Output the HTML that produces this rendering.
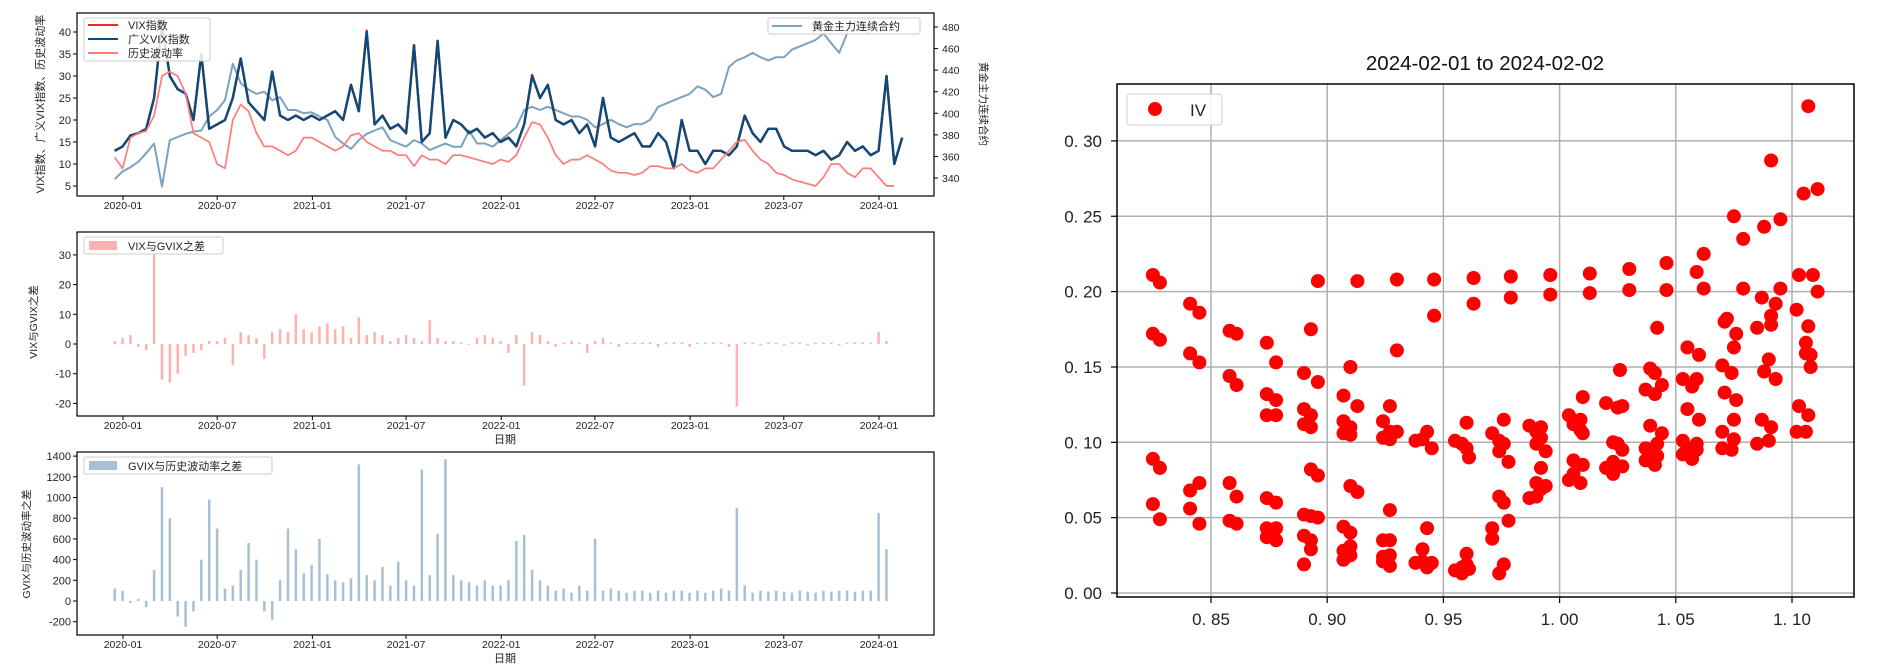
<!DOCTYPE html>
<html><head><meta charset="utf-8">
<style>
html,body{margin:0;padding:0;background:#fff;}
svg{display:block;}
text{font-family:"Liberation Sans","Noto Sans CJK SC",sans-serif;}
</style></head>
<body>
<svg id="svg" width="1893" height="666" viewBox="0 0 1893 666" xmlns="http://www.w3.org/2000/svg"></svg>
<script>
// ---------- time series data (half-month samples starting 2019-12-16) ----------
const gvixValues = [13,14,16.5,17,18,25,42,30,27,26,20,35,18,19,20,25,34,24,22,20,31,21,20,21,20,21,
20,21,22,20,28,22,40,19,21,18,19,17,37,15,17,38,16,20,19,17,18,16,17,15,
16,14,19,30,25,28,20,19,20,17,19,14,25,16,15,16,17,14,14,17,15,9,20,13,
13,10,13,13,12,14,21,17,15,18,18,14,13,13,13,12,13,11,12,15,13,14,12,13,30,10,16];
const vixValues = [13,14,16.5,17,18,25,42,30,27,26,20,35,18,19,20,25,34,24,22,20,31,21,20,21,20,21,
20,21,22,20,28,22,40.3,19,21,18,19,17,37,15,17,38,16,20,19,17,18,16,17,15,
16,14,19,30.2,25,28,20,19,20,17,19,14,25,16,15,16,17,14,14,17,15,9,20,13,
13,10,13,13,12,14,21,17,15,18,18,14,13,13,13,12,13,11,12,15,13,14,12,13,30,10,16];
const hvValues = [11.5,9,16,17,17.5,21,30,31,30,26,17,16,15,10,9,20,23.5,22,17,14,14,13,12,13,16,
16,15,14,13,14,16.5,17,15,14,13,13,12,12,9.5,12,11,11,10,12,12,11.5,11,10.5,10,
11,10.5,12,16,19.5,19,16,12,10,11,11,12,11,10,8.5,8,8,7.5,8,9.5,9.5,9,9,10,
8.5,8,9,9,11,13,15,15.5,13,11,10,8,7.5,6.5,6,5.5,5,7,10,10,8,7,9,9,7,5,5];
const goldValues = [339,346,350,355,363,372,332,375,378,381,383,384,397,403,412,446,428,422,418,420,412,415,403,403,400,
401,397,394,378,372,367,375,381,384,387,375,372,369,375,372,366,369,372,369,369,384,372,372,369,
375,381,387,403,406,403,406,403,400,397,397,394,387,390,394,390,387,390,390,394,406,409,412,415,
418,425,422,415,418,443,449,452,456,452,449,452,452,459,462,465,468,474,465,456,474,486,477,474];
const vixGvixDiff = [1,2,3,-1,-2,31,-12,-13,-10,-4,-3,-2,1,1,2,-7,4,3,2,-5,4,5,4,10,5,
4,6,7,5,6,2,9,3,4,3,1,2,3,2,1,8,2,1,1,0.5,0,2,3,2,
1,-3,3,-14,4,3,1,-1,0.5,1,0.5,-3,1,2,0.5,-1,0.5,0.5,0.5,0.5,-1,0.5,0.5,0.5,
-1,0.5,0.5,0.5,0.5,-1,-21,0.5,0.5,-0.5,0.5,0.5,-0.5,0.5,0.5,-0.5,0.5,0.5,0.5,-0.5,0.5,0.5,0.5,0.5,4,1];
const gvixHvDiff = [120,100,-20,20,-60,300,1100,800,-150,-250,-100,400,980,700,120,150,300,560,400,-100,-180,200,700,500,270,
350,600,260,200,180,220,1320,250,200,330,150,380,200,150,1270,250,650,1370,250,200,180,150,200,150,
150,200,580,640,300,200,150,100,120,80,150,100,600,100,120,100,80,100,100,80,100,80,100,100,
80,100,80,100,120,100,900,150,80,100,90,100,90,80,100,90,80,100,90,100,100,90,100,100,850,500];
const dateTicks = ['2020-01','2020-07','2021-01','2021-07','2022-01','2022-07','2023-01','2023-07','2024-01'];
const leftTicks = [5,10,15,20,25,30,35,40];
const rightTicks = [340,360,380,400,420,440,460,480];
const midTicks = [-20,-10,0,10,20,30];
const botTicks = [-200,0,200,400,600,800,1000,1200,1400];

// ---------- scatter data ----------
const ivMoneyness = [0.825,0.825,0.825,0.825,0.828,0.828,0.828,0.828,0.841,0.841,0.841,0.841,0.845,0.845,0.845,0.845,
0.858,0.858,0.858,0.858,0.861,0.861,0.861,0.861,0.874,0.874,0.874,0.874,0.874,0.874,0.878,0.878,0.878,0.878,0.878,0.878,
0.890,0.890,0.890,0.890,0.890,0.890,0.893,0.893,0.893,0.893,0.893,0.893,0.893,0.896,0.896,0.896,0.896,
0.907,0.907,0.907,0.907,0.907,0.907,0.910,0.910,0.910,0.910,0.910,0.910,0.910,0.913,0.913,0.913,
0.924,0.924,0.924,0.924,0.924,0.927,0.927,0.927,0.927,0.927,0.927,0.927,0.930,0.930,0.930,
0.938,0.938,0.941,0.941,0.941,0.943,0.943,0.943,0.945,0.945,0.946,0.946,
0.955,0.955,0.958,0.958,0.958,0.960,0.960,0.960,0.960,0.961,0.961,0.963,0.963,
0.971,0.971,0.971,0.974,0.974,0.974,0.974,0.976,0.976,0.976,0.976,0.978,0.978,0.979,0.979,
0.987,0.987,0.990,0.990,0.990,0.990,0.992,0.992,0.992,0.992,0.994,0.994,0.996,0.996,
1.004,1.004,1.006,1.006,1.006,1.009,1.009,1.009,1.010,1.010,1.010,1.013,1.013,
1.020,1.020,1.023,1.023,1.023,1.025,1.025,1.027,1.027,1.027,1.026,1.030,1.030,
1.037,1.037,1.037,1.039,1.039,1.039,1.041,1.041,1.041,1.042,1.042,1.042,1.044,1.044,1.046,1.046,
1.053,1.053,1.053,1.055,1.055,1.055,1.057,1.057,1.059,1.059,1.059,1.059,1.060,1.060,1.062,1.062,
1.070,1.070,1.070,1.071,1.071,1.072,1.074,1.074,1.075,1.075,1.075,1.075,1.076,1.076,1.079,1.079,
1.085,1.085,1.087,1.087,1.088,1.088,1.090,1.090,1.091,1.091,1.091,1.091,1.093,1.093,1.095,1.095,
1.102,1.102,1.103,1.103,1.105,1.106,1.106,1.106,1.107,1.107,1.107,1.108,1.108,1.109,1.111,1.111];
const ivValues = [0.211,0.089,0.059,0.172,0.206,0.168,0.083,0.049,0.192,0.159,0.068,0.056,0.186,0.153,0.073,0.046,
0.174,0.144,0.073,0.048,0.172,0.138,0.064,0.046,0.166,0.132,0.118,0.063,0.043,0.037,0.153,0.128,0.118,0.060,0.043,0.035,
0.146,0.122,0.112,0.052,0.038,0.019,0.175,0.118,0.110,0.082,0.051,0.035,0.029,0.207,0.140,0.078,0.050,
0.131,0.114,0.106,0.044,0.028,0.022,0.150,0.110,0.105,0.071,0.040,0.031,0.025,0.207,0.124,0.067,
0.114,0.103,0.035,0.024,0.021,0.124,0.107,0.102,0.055,0.035,0.025,0.018,0.208,0.161,0.107,
0.101,0.020,0.102,0.029,0.021,0.107,0.043,0.017,0.096,0.020,0.208,0.184,
0.101,0.015,0.099,0.017,0.013,0.113,0.096,0.026,0.019,0.090,0.016,0.209,0.192,
0.106,0.036,0.043,0.101,0.094,0.064,0.013,0.115,0.099,0.060,0.019,0.087,0.048,0.210,0.196,
0.111,0.063,0.107,0.099,0.073,0.064,0.110,0.103,0.083,0.069,0.094,0.071,0.211,0.198,
0.118,0.075,0.112,0.088,0.079,0.115,0.108,0.073,0.130,0.106,0.085,0.212,0.199,
0.126,0.083,0.100,0.087,0.079,0.123,0.099,0.124,0.095,0.084,0.148,0.215,0.201,
0.135,0.096,0.088,0.149,0.111,0.091,0.146,0.132,0.085,0.176,0.099,0.091,0.138,0.106,0.219,0.201,
0.142,0.101,0.092,0.163,0.122,0.096,0.137,0.089,0.213,0.142,0.099,0.095,0.158,0.115,0.225,0.202,
0.151,0.107,0.096,0.180,0.133,0.182,0.146,0.095,0.250,0.163,0.115,0.102,0.172,0.128,0.235,0.202,
0.176,0.099,0.196,0.115,0.243,0.147,0.155,0.101,0.287,0.184,0.178,0.110,0.192,0.142,0.248,0.202,
0.188,0.107,0.211,0.124,0.265,0.166,0.159,0.107,0.323,0.177,0.118,0.158,0.150,0.211,0.268,0.200];
const scatterXTicks = [0.85,0.90,0.95,1.00,1.05,1.10];
const scatterYTicks = [0.00,0.05,0.10,0.15,0.20,0.25,0.30];

const NS = 'http://www.w3.org/2000/svg';
const svg = document.getElementById('svg');
function mk(tag, attrs, parent) {
  const e = document.createElementNS(NS, tag);
  for (const k in attrs) e.setAttribute(k, attrs[k]);
  (parent || svg).appendChild(e);
  return e;
}
function txt(str, attrs, parent) { const t = mk('text', attrs, parent); t.textContent = str; return t; }

const D0 = Date.UTC(2020,0,1), D1 = Date.UTC(2024,0,1);
const startDate = Date.UTC(2019,11,16);
const halfMonth = 365.25/24*86400000;
function xDate(ms) { return 123 + (ms - D0) / (D1 - D0) * 756; }
function xIdx(i) { return xDate(startDate + i * halfMonth); }
function tickDate(s) { const [y,m] = s.split('-').map(Number); return Date.UTC(y, m-1, 1); }

const X0 = 77, X1 = 934;
function frame(y0, y1, name) {
  const r = mk('rect', {x:X0, y:y0, width:X1-X0, height:y1-y0, fill:'none', stroke:'#000', 'stroke-width':1.2});
  
  
}
function xAxis(yb, labelY, name) {
  const g = mk('g', {});
  
  
  dateTicks.forEach(s => {
    const x = xDate(tickDate(s));
    mk('line', {x1:x, x2:x, y1:yb, y2:yb+4, stroke:'#000', 'stroke-width':1}, g);
    const t = txt(s, {x:x, y:labelY, 'font-size':10.5, 'text-anchor':'middle', fill:'#222'}, g);
    
    
  });
}
function yAxisLeft(ticks, fy, name) {
  const g = mk('g', {});
  
  
  ticks.forEach(v => {
    const y = fy(v);
    mk('line', {x1:X0-4, x2:X0, y1:y, y2:y, stroke:'#000'}, g);
    txt(String(v), {x:X0-6, y:y+4, 'font-size':11, 'text-anchor':'end', fill:'#222'}, g);
  });
}

// ---------- top chart ----------
const T0 = 13, T1 = 196;
const yL = v => 186 - (v - 5) * 4.4;
const yR = v => 178 - (v - 340) * 1.0786;
const clip = mk('clipPath', {id:'topclip'});
mk('rect', {x:X0, y:T0, width:X1-X0, height:T1-T0}, clip);
const topG = mk('g', {'clip-path':'url(#topclip)'});


function pl(vals, fy, color, w, name) {
  const pts = vals.map((v,i) => xIdx(i).toFixed(1) + ',' + fy(v).toFixed(1)).join(' ');
  const p = mk('polyline', {points:pts, fill:'none', stroke:color, 'stroke-width':w, 'stroke-linejoin':'round'}, topG);
  
  
}
pl(goldValues, yR, '#7ca2c0', 2, 'gold-line');
pl(vixValues, yL, '#ff2020', 2.4, 'vix-line');
pl(gvixValues, yL, '#0b4a7a', 2.4, 'gvix-line');
pl(hvValues, yL, '#ff7b7b', 1.7, 'hv-line');
frame(T0, T1, 'top-chart-frame');
yAxisLeft(leftTicks, yL, 'top-left-y-axis');
const rg = mk('g', {});


rightTicks.forEach(v => {
  const y = yR(v);
  mk('line', {x1:X1, x2:X1+4, y1:y, y2:y, stroke:'#000'}, rg);
  txt(String(v), {x:X1+8, y:y+4, 'font-size':10.5, fill:'#222'}, rg);
});
xAxis(T1, 209, 'top-x-axis');
let t = txt('VIX指数、广义VIX指数、历史波动率', {x:0, y:0, 'font-size':11, 'text-anchor':'middle', transform:'translate(44,104) rotate(-90)', fill:'#222'});


t = txt('黄金主力连续合约', {x:0, y:0, 'font-size':10.5, 'text-anchor':'middle', transform:'translate(980,104) rotate(90)', fill:'#222'});


const lg1 = mk('g', {});


mk('rect', {x:84, y:18, width:126, height:43, rx:2, fill:'#fff', 'fill-opacity':0.85, stroke:'#ccc'}, lg1);
[['VIX指数','#ff2020',25],['广义VIX指数','#0b4a7a',39],['历史波动率','#ff7b7b',53]].forEach(([l,c,y]) => {
  mk('line', {x1:88, x2:118, y1:y, y2:y, stroke:c, 'stroke-width':2}, lg1);
  txt(l, {x:128, y:y+4, 'font-size':11, fill:'#222'}, lg1);
});
const lg2 = mk('g', {});


mk('rect', {x:768, y:18, width:152, height:16, rx:2, fill:'#fff', 'fill-opacity':0.85, stroke:'#ccc'}, lg2);
mk('line', {x1:772, x2:802, y1:26, y2:26, stroke:'#7ca2c0', 'stroke-width':2}, lg2);
txt('黄金主力连续合约', {x:812, y:30, 'font-size':11, fill:'#222'}, lg2);

// ---------- middle chart ----------
const M0 = 232, M1 = 416;
const yM = v => 344 - v * 2.97;
const midG = mk('g', {});


vixGvixDiff.forEach((v,i) => {
  const x = xIdx(i);
  const y0 = yM(0), y1 = yM(v);
  const b = mk('rect', {x:x-1.25, y:Math.min(y0,y1), width:2.5, height:Math.max(0.8,Math.abs(y1-y0)), fill:'#ffb0b0'}, midG);
  
  
});
frame(M0, M1, 'middle-chart-frame');
yAxisLeft(midTicks, yM, 'middle-y-axis');
xAxis(M1, 429, 'middle-x-axis');
t = txt('日期', {x:505, y:443, 'font-size':11, 'text-anchor':'middle', fill:'#222'});


t = txt('VIX与GVIX之差', {x:0, y:0, 'font-size':10.5, 'text-anchor':'middle', transform:'translate(37,322) rotate(-90)', fill:'#222'});


const lg3 = mk('g', {});


mk('rect', {x:84, y:237, width:139, height:17, rx:2, fill:'#fff', stroke:'#ccc'}, lg3);
mk('rect', {x:89, y:241, width:28, height:9, fill:'#ffb0b0'}, lg3);
txt('VIX与GVIX之差', {x:128, y:250, 'font-size':11, fill:'#222'}, lg3);

// ---------- bottom chart ----------
const B0 = 452, B1 = 635;
const yB = v => 601 - v * 0.1035;
const botG = mk('g', {});


gvixHvDiff.forEach((v,i) => {
  const x = xIdx(i);
  const y0 = yB(0), y1 = yB(v);
  const b = mk('rect', {x:x-1.25, y:Math.min(y0,y1), width:2.5, height:Math.max(0.8,Math.abs(y1-y0)), fill:'#a9c0d4'}, botG);
  
  
});
frame(B0, B1, 'bottom-chart-frame');
yAxisLeft(botTicks, yB, 'bottom-y-axis');
xAxis(B1, 648, 'bottom-x-axis');
t = txt('日期', {x:505, y:662, 'font-size':11, 'text-anchor':'middle', fill:'#222'});


t = txt('GVIX与历史波动率之差', {x:0, y:0, 'font-size':10.5, 'text-anchor':'middle', transform:'translate(30,544) rotate(-90)', fill:'#222'});


const lg4 = mk('g', {});


mk('rect', {x:84, y:457, width:188, height:17, rx:2, fill:'#fff', stroke:'#ccc'}, lg4);
mk('rect', {x:89, y:461, width:28, height:9, fill:'#a9c0d4'}, lg4);
txt('GVIX与历史波动率之差', {x:128, y:470, 'font-size':11, fill:'#222'}, lg4);

// ---------- scatter chart ----------
const SX0 = 1117, SX1 = 1854, SY0 = 84, SY1 = 597;
const sx = v => 1211 + (v - 0.85) * 2324;
const sy = v => 593 - v * 1507;
const sg = mk('g', {});


scatterXTicks.forEach(v => {
  mk('line', {x1:sx(v), x2:sx(v), y1:SY0, y2:SY1, stroke:'#b0b0b0', 'stroke-width':1.5}, sg);
});
scatterYTicks.forEach(v => {
  mk('line', {x1:SX0, x2:SX1, y1:sy(v), y2:sy(v), stroke:'#b0b0b0', 'stroke-width':1.5}, sg);
});
const dots = mk('g', {});


ivMoneyness.forEach((m,i) => {
  const c = mk('circle', {cx:sx(m).toFixed(1), cy:sy(ivValues[i]).toFixed(1), r:7, fill:'#ff0000'}, dots);
  
  
});
const sf = mk('rect', {x:SX0, y:SY0, width:SX1-SX0, height:SY1-SY0, fill:'none', stroke:'#000', 'stroke-width':1.5});


const sxa = mk('g', {});


scatterXTicks.forEach(v => {
  mk('line', {x1:sx(v), x2:sx(v), y1:SY1, y2:SY1+6, stroke:'#000', 'stroke-width':1.2}, sxa);
  txt(v.toFixed(2).replace('.', '. '), {x:sx(v), y:625, 'font-size':17, 'text-anchor':'middle', fill:'#222'}, sxa);
});
const sya = mk('g', {});


scatterYTicks.forEach(v => {
  mk('line', {x1:SX0-6, x2:SX0, y1:sy(v), y2:sy(v), stroke:'#000', 'stroke-width':1.2}, sya);
  txt(v.toFixed(2).replace('.', '. '), {x:1102, y:sy(v)+6, 'font-size':17, 'text-anchor':'end', fill:'#222'}, sya);
});
t = txt('2024-02-01 to 2024-02-02', {x:1485, y:70, 'font-size':20.5, 'text-anchor':'middle', fill:'#111', 'font-family':'Liberation Mono, monospace'});


const slg = mk('g', {});


mk('rect', {x:1127, y:94, width:95, height:31, rx:3, fill:'#fff', 'fill-opacity':0.85, stroke:'#d0d0d0'}, slg);
mk('circle', {cx:1155, cy:109, r:7, fill:'#ff0000'}, slg);
txt('IV', {x:1190, y:116, 'font-size':17, fill:'#222'}, slg);
</script>
</body></html>
